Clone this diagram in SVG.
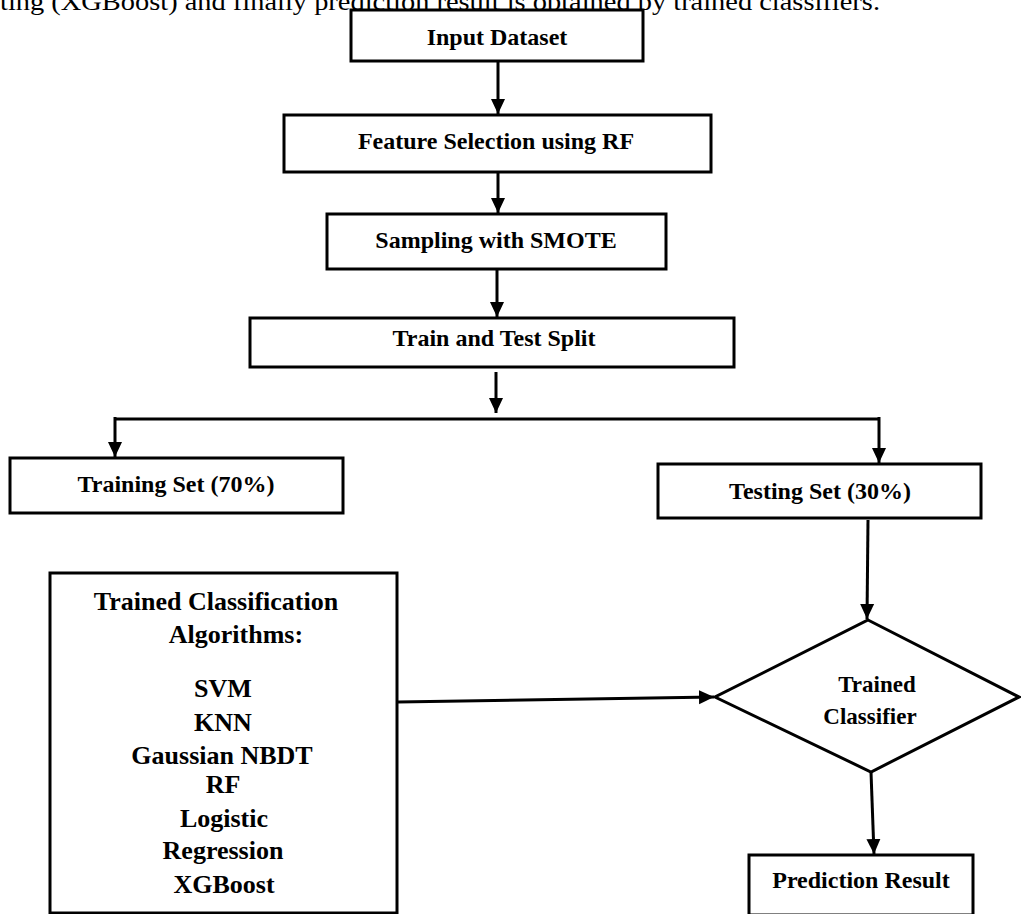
<svg xmlns="http://www.w3.org/2000/svg" width="1021" height="914" viewBox="0 0 1021 914">
<style>
.box{fill:#fff;stroke:#000;stroke-width:3}
.lbl{font-family:"Liberation Serif","Times New Roman",serif;font-weight:bold;font-size:24px;fill:#000;text-anchor:middle}
.alg{font-size:26px}
.cap{font-family:"Liberation Serif","Times New Roman",serif;font-size:26px;fill:#000}
.con{fill:none;stroke:#000;stroke-width:3}
.arr{fill:none;stroke:#000;stroke-width:3;marker-end:url(#ah)}
</style>
<defs>
<marker id="ah" markerUnits="userSpaceOnUse" markerWidth="16" markerHeight="16" viewBox="0 0 16 16" refX="15" refY="8" orient="auto">
<path d="M0,1 L15,8 L0,15 Z" fill="#000"/>
</marker>
</defs>
<rect width="1021" height="914" fill="#fff"/>
<text class="cap" x="0" y="10" textLength="880" lengthAdjust="spacingAndGlyphs">ting (XGBoost) and finally prediction result is obtained by trained classifiers.</text>

<g id="connectors">
<path class="arr" d="M498,62 V114"/>
<path class="arr" d="M498,173 V213"/>
<path class="arr" d="M497,270 V317"/>
<path class="arr" d="M496,372 V413"/>
<path class="con" d="M115,419 H880"/>
<path class="arr" d="M115,417 V457"/>
<path class="arr" d="M879,417 V463"/>
<path class="arr" d="M868,520 L867,619"/>
<path class="arr" d="M398,702 L714,697"/>
<path class="arr" d="M871,772 L874,854"/>
</g>

<g id="n-input">
<rect class="box" x="351" y="10" width="292" height="51"/>
<text class="lbl" x="497" y="45">Input Dataset</text>
</g>
<g id="n-feature">
<rect class="box" x="284" y="115" width="427" height="57"/>
<text class="lbl" x="496" y="149">Feature Selection using RF</text>
</g>
<g id="n-smote">
<rect class="box" x="327" y="214" width="339" height="55"/>
<text class="lbl" x="496" y="248">Sampling with SMOTE</text>
</g>
<g id="n-split">
<rect class="box" x="250" y="318" width="484" height="49"/>
<text class="lbl" x="494" y="346">Train and Test Split</text>
</g>
<g id="n-train">
<rect class="box" x="10" y="458" width="333" height="55"/>
<text class="lbl" x="176" y="492">Training Set (70%)</text>
</g>
<g id="n-test">
<rect class="box" x="658" y="464" width="323" height="54"/>
<text class="lbl" x="820" y="499">Testing Set (30%)</text>
</g>
<g id="n-algos">
<rect class="box" x="50" y="573" width="347" height="340"/>
<text class="lbl alg" x="216" y="610">Trained Classification</text>
<text class="lbl alg" x="236" y="643">Algorithms:</text>
<text class="lbl alg" x="223" y="697">SVM</text>
<text class="lbl alg" x="223" y="731">KNN</text>
<text class="lbl alg" x="222" y="764">Gaussian NBDT</text>
<text class="lbl alg" x="223" y="793">RF</text>
<text class="lbl alg" x="224" y="827">Logistic</text>
<text class="lbl alg" x="223" y="859">Regression</text>
<text class="lbl alg" x="224" y="893">XGBoost</text>
</g>
<g id="n-classifier">
<polygon class="box" points="868,620 1019,697 871,772 715,697"/>
<text class="lbl" x="877" y="692" style="font-size:23px">Trained</text>
<text class="lbl" x="870" y="724" style="font-size:23px">Classifier</text>
</g>
<g id="n-result">
<rect class="box" x="749" y="855" width="224" height="60"/>
<text class="lbl" x="861" y="888">Prediction Result</text>
</g>
</svg>
